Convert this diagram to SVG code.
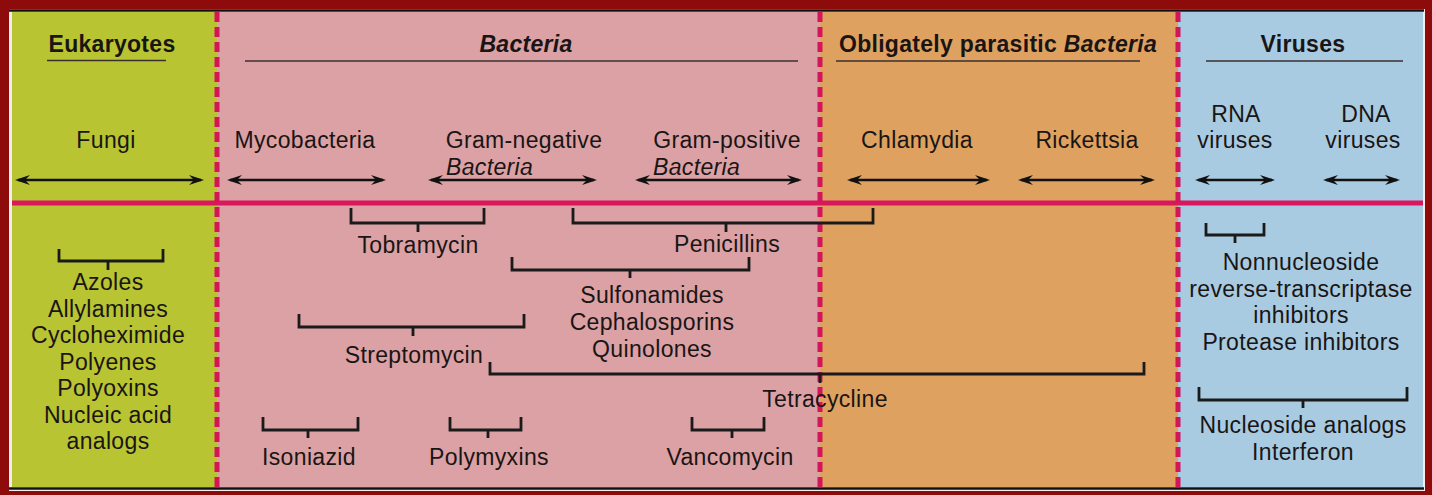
<svg xmlns="http://www.w3.org/2000/svg" width="1432" height="495" viewBox="0 0 1432 495">
<style>
.t{font-family:"Liberation Sans",Arial,sans-serif;font-size:23px;fill:#1a1515;text-anchor:middle;letter-spacing:0.35px}
.l{text-anchor:start}
.h{font-weight:bold;letter-spacing:0.3px}
.i{font-style:italic}
.ul{stroke:#3a3030;stroke-width:1.6}
.arr{stroke:#111;stroke-width:2.5;fill:none;marker-start:url(#ah);marker-end:url(#ah)}
.br{fill:none;stroke:#1a1a1a;stroke-width:2.8}
.div{stroke:#d3155a;stroke-width:5;stroke-dasharray:10 5}
</style>
<defs>
<marker id="ah" markerUnits="userSpaceOnUse" markerWidth="15" markerHeight="10" refX="12" refY="5" orient="auto-start-reverse" viewBox="0 0 15 10">
<path d="M0,0 L15,5 L0,10 L5,5 Z" fill="#111"/>
</marker>
</defs>
<g id="frame">
<rect x="0" y="0" width="1432" height="495" fill="#8e0b0b"/>
<rect x="9" y="9" width="1416" height="482" fill="#f2eeee"/>
</g>
<g id="panels">
<rect x="12" y="12" width="205" height="475" fill="#b8c432"/>
<rect x="217" y="12" width="603" height="475" fill="#dba1a4"/>
<rect x="820" y="12" width="358" height="475" fill="#dea160"/>
<rect x="1178" y="12" width="245" height="475" fill="#a9cbe1"/>
<line x1="9" y1="10.5" x2="1424" y2="10.5" stroke="#111" stroke-width="2.5"/>
<line x1="9" y1="488.5" x2="1424" y2="488.5" stroke="#111" stroke-width="2.5"/>
<line x1="12" y1="203" x2="1423" y2="203" stroke="#d8175c" stroke-width="5"/>
<line class="div" x1="217" y1="12" x2="217" y2="487"/>
<line class="div" x1="820" y1="12" x2="820" y2="487"/>
<line class="div" x1="1178" y1="12" x2="1178" y2="487"/>
</g>
<g id="headers">
<text class="t h" x="112" y="52">Eukaryotes</text>
<line class="ul" x1="47" y1="60.5" x2="166" y2="60.5"/>
<text class="t h i" x="526" y="52">Bacteria</text>
<line class="ul" x1="245" y1="61" x2="798" y2="61"/>
<text class="t h" x="998" y="52">Obligately parasitic <tspan class="i">Bacteria</tspan></text>
<line class="ul" x1="836" y1="61" x2="1140" y2="61"/>
<text class="t h" x="1303" y="52">Viruses</text>
<line class="ul" x1="1206" y1="61" x2="1403" y2="61"/>
</g>
<g id="organisms">
<g id="fungi"><text class="t" x="106" y="148">Fungi</text></g>
<g id="mycobacteria"><text class="t" x="305" y="148">Mycobacteria</text></g>
<g id="gramneg"><text class="t" x="524" y="148">Gram-negative</text><text class="t l i" x="446" y="175">Bacteria</text></g>
<g id="grampos"><text class="t" x="727" y="148">Gram-positive</text><text class="t l i" x="653" y="175">Bacteria</text></g>
<g id="chlamydia"><text class="t" x="917" y="148">Chlamydia</text></g>
<g id="rickettsia"><text class="t" x="1087" y="148">Rickettsia</text></g>
<g id="rna"><text class="t" x="1236" y="122">RNA</text><text class="t" x="1235" y="148">viruses</text></g>
<g id="dna"><text class="t" x="1366" y="122">DNA</text><text class="t" x="1363" y="148">viruses</text></g>
</g>
<g id="connectors">
<line class="arr" x1="18" y1="180" x2="201" y2="180"/>
<line class="arr" x1="230" y1="180" x2="383" y2="180"/>
<line class="arr" x1="431" y1="180" x2="594" y2="180"/>
<line class="arr" x1="638" y1="180" x2="799" y2="180"/>
<line class="arr" x1="850" y1="180" x2="987" y2="180"/>
<line class="arr" x1="1021" y1="180" x2="1152" y2="180"/>
<line class="arr" x1="1198" y1="180" x2="1272" y2="180"/>
<line class="arr" x1="1326" y1="180" x2="1397" y2="180"/>
<path class="br" d="M59,249 V261 H163 V249 M108,261 V270"/>
<path class="br" d="M351,208 V223 H484 V208 M418,223 V232"/>
<path class="br" d="M573,208 V223 H873 V208 M726,223 V232"/>
<path class="br" d="M512,257 V270 H749 V257 M630,270 V278"/>
<path class="br" d="M299,314 V327 H524 V314 M413,327 V336"/>
<path class="br" d="M490,362 V374 H1144 V362 M820,374 V383"/>
<path class="br" d="M263,417 V430 H358 V417 M308,430 V438"/>
<path class="br" d="M450,417 V430 H521 V417 M488,430 V438"/>
<path class="br" d="M692,417 V430 H764 V417 M732,430 V438"/>
<path class="br" d="M1206,223 V235 H1264 V223 M1235,235 V243"/>
<path class="br" d="M1199,387 V400 H1407 V387 M1303,400 V408"/>
</g>
<g id="drugs">
<g id="antifungal"><text class="t" x="108" y="290">Azoles</text><text class="t" x="108" y="316.5">Allylamines</text><text class="t" x="108" y="343">Cycloheximide</text><text class="t" x="108" y="369.5">Polyenes</text><text class="t" x="108" y="396">Polyoxins</text><text class="t" x="108" y="422.5">Nucleic acid</text><text class="t" x="108" y="449">analogs</text></g>
<g id="tobramycin"><text class="t" x="418" y="253">Tobramycin</text></g>
<g id="penicillins"><text class="t" x="727" y="252">Penicillins</text></g>
<g id="sulfonamides"><text class="t" x="652" y="303">Sulfonamides</text><text class="t" x="652" y="330">Cephalosporins</text><text class="t" x="652" y="357">Quinolones</text></g>
<g id="streptomycin"><text class="t" x="414" y="363">Streptomycin</text></g>
<g id="tetracycline"><text class="t" x="825" y="407">Tetracycline</text></g>
<g id="isoniazid"><text class="t" x="309" y="465">Isoniazid</text></g>
<g id="polymyxins"><text class="t" x="489" y="465">Polymyxins</text></g>
<g id="vancomycin"><text class="t" x="730" y="465">Vancomycin</text></g>
<g id="nnrti"><text class="t" x="1301" y="270">Nonnucleoside</text><text class="t" x="1301" y="297">reverse-transcriptase</text><text class="t" x="1301" y="323">inhibitors</text><text class="t" x="1301" y="350">Protease inhibitors</text></g>
<g id="nucleoside"><text class="t" x="1303" y="433">Nucleoside analogs</text><text class="t" x="1303" y="460">Interferon</text></g>
</g>
</svg>
